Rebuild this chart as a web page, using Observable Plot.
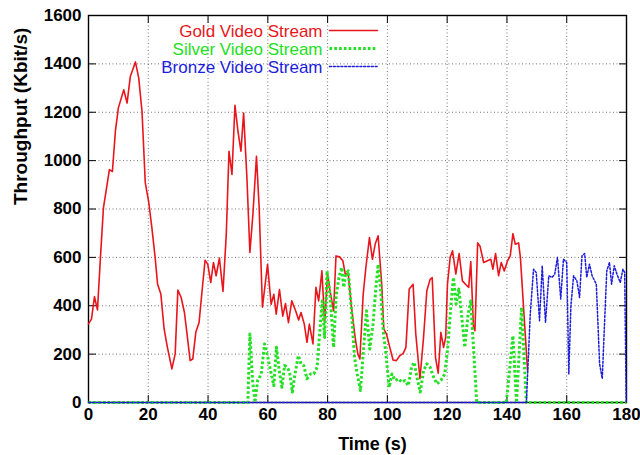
<!DOCTYPE html>
<html><head><meta charset="utf-8">
<script src="https://cdn.jsdelivr.net/npm/d3@7"></script>
<script src="https://cdn.jsdelivr.net/npm/@observablehq/plot@0.6"></script>
<style>body{margin:0;background:#fff} #chart svg{display:block}</style>
</head><body><div id="chart"></div>
<script>
// ---- data ----
const goldT = [0,1,2,3,4,5,7,8,9,10,11.8,12.9,14,15.7,16.8,17.9,19,20.1,21.2,22.3,23.1,24.2,25.3,26.4,27.9,29,29.9,31,32.1,33.1,34,34.9,35.9,37,38,39,39.9,40.9,41.8,42.7,43.8,45,46.1,47,48,49,50,51,51.9,53,54,55,56.2,57.1,58.2,59.9,61.1,62,62.8,63.9,65,65.9,66.9,68,69.3,70.3,71.1,72.2,73.1,73.9,75.1,76.1,77,78.1,79,80,80.8,82,82.8,84,85.1,85.9,86.9,88,89.2,90.1,90.8,91.9,92.8,94,95,95.9,96.9,98.1,98.8,99.7,100.8,101.9,103,104.2,105.3,106.2,107.3,108.6,109.5,110.9,112.1,113.2,114.3,115,116.1,117,117.9,118.8,119.5,120.1,121,121.8,122.9,124,125.1,126.3,127.2,127.9,128.8,129.3,130.2,131,132.2,133.5,134.6,135.3,136.2,137.2,138.1,139.1,140.2,141.1,142,142.8,143.9,144.5,146.9];
const goldV = [325,345,438,383,600,805,963,955,1122,1218,1293,1238,1348,1408,1342,1204,908,833,723,599,490,449,304,228,139,201,465,434,372,269,173,180,290,331,462,588,572,496,579,524,597,459,696,1039,943,1229,1122,1039,1197,929,620,777,1018,805,394,571,406,447,365,467,357,409,330,420,379,341,372,324,249,324,242,476,420,544,330,531,462,379,606,602,586,531,531,393,269,201,180,447,558,682,592,654,689,489,304,283,228,176,173,194,203,228,469,489,283,98,270,462,509,516,187,121,290,228,269,489,600,627,531,616,503,487,476,583,311,297,660,646,579,586,592,551,616,524,579,544,586,606,698,654,660,600,130];

const silverT = [0,53.3,54,54.9,55.7,56.6,57.8,58.9,60,60.9,62,62.9,63.8,64.7,65.6,66.5,67.3,68.2,69.1,70.2,71.1,72,73.1,74.3,75.4,76.5,77.4,78.2,79,79.8,80.9,82,82.9,83.8,84.7,85.4,86,86.9,87.9,89,89.9,91,91.9,93,94.1,95.2,96.1,96.9,97.7,98.6,99.5,100.6,101.5,102.6,103.7,104.8,105.9,107,108.1,109,109.9,111,112.1,113.2,114.3,115.4,116.6,117.9,119.2,120.2,121.2,122.1,123,123.9,124.8,125.9,127,127.9,128.8,129.9,139.8,142,143.2,144.9,146.5,180];
const silverV = [0,0,283,91,0,91,118,242,187,132,70,228,132,63,153,146,125,43,118,194,160,153,98,118,118,146,297,420,269,544,434,228,447,517,558,476,531,544,393,187,118,50,201,379,221,324,467,571,476,297,201,63,118,91,98,84,91,70,146,166,104,43,132,160,146,107,77,91,118,228,393,517,407,469,365,228,365,420,228,0,0,276,0,393,0,0];

const bronzeT = [0,146.5,147.8,148.9,149.8,150.9,151.8,152.9,154,155.1,156,156.9,158,158.9,160,160.7,161.4,162.3,163.4,164.3,165.1,166,166.7,167.6,168.5,169.9,171,171.9,172.5,173.4,174.3,175,175.9,176.8,177.9,178.8,179.4,179.9,180];
const bronzeV = [0,0,365,551,537,338,565,331,524,517,531,600,428,593,579,118,400,524,503,434,606,616,517,572,524,489,160,98,283,544,579,489,565,531,496,551,537,0,0];

const xTicks = [0,20,40,60,80,100,120,140,160,180];
const yTicks = [0,200,400,600,800,1000,1200,1400,1600];
const seriesNames = ["Gold Video Stream","Silver Video Stream","Bronze Video Stream"];
const seriesColors = ["#e8161c","#22e022","#1c1cdc"];
const xTitle = "Time (s)";
const yTitle = "Throughput (Kbit/s)";

// ---- build ----
const rows = (T, V) => T.map((t, i) => ({t, v: V[i]}));
const gold = rows(goldT, goldV), silver = rows(silverT, silverV), bronze = rows(bronzeT, bronzeV);
const seg = {draw(ctx, l) { ctx.moveTo(0, 0); ctx.lineTo(0, -l); }};
const styles = [
  {strokeWidth: 1.6},
  {strokeWidth: 3, strokeDasharray: "2.6,2.2", strokeLinecap: "butt"},
  {strokeWidth: 1.5, strokeDasharray: "2,1.8"}
];
const tickOpt = {stroke: "#000", strokeWidth: 1, length: 7, anchor: "start", shape: seg};

const legendMarks = seriesNames.flatMap((name, i) => [
  Plot.text([name], {text: d => d, frameAnchor: "top-left", dx: 234, dy: 16 + i * 18,
    textAnchor: "end", lineAnchor: "middle", fill: seriesColors[i], fontSize: 17, fontWeight: "normal"}),
  Plot.vector([name], {frameAnchor: "top-left", dx: 241, dy: 15 + i * 18, rotate: 90,
    length: 48, anchor: "start", shape: seg, stroke: seriesColors[i], ...styles[i]})
]);

const chart = Plot.plot({
  width: 640, height: 455,
  marginLeft: 88, marginRight: 14, marginTop: 15, marginBottom: 53,
  style: {fontFamily: "'Liberation Sans', Arial, Helvetica, sans-serif", fontSize: "17px", fontWeight: "bold", background: "#fff", color: "#000"},
  x: {domain: [0, 180], axis: null},
  y: {domain: [0, 1600], axis: null},
  marks: [
    Plot.gridX(xTicks.slice(1, -1), {stroke: "#000", strokeOpacity: 0.55, strokeDasharray: "1,2.5"}),
    Plot.gridY(yTicks.slice(1, -1), {stroke: "#000", strokeOpacity: 0.55, strokeDasharray: "1,2.5"}),
    Plot.frame({stroke: "#000", strokeWidth: 1.4}),
    Plot.vector(xTicks, {x: d => d, frameAnchor: "bottom", rotate: 0, ...tickOpt}),
    Plot.vector(xTicks, {x: d => d, frameAnchor: "top", rotate: 180, ...tickOpt}),
    Plot.vector(yTicks, {y: d => d, frameAnchor: "left", rotate: 90, ...tickOpt}),
    Plot.vector(yTicks, {y: d => d, frameAnchor: "right", rotate: -90, ...tickOpt}),
    Plot.axisX(xTicks, {anchor: "bottom", tickSize: 0, tickPadding: 5, label: null, tickFormat: d => String(d), fontSize: 17, fontWeight: "bold"}),
    Plot.axisY(yTicks, {anchor: "left", tickSize: 0, tickPadding: 7, label: null, tickFormat: d => String(d), fontSize: 17, fontWeight: "bold"}),
    Plot.line(gold, {x: "t", y: "v", stroke: seriesColors[0], ...styles[0]}),
    Plot.line(silver, {x: "t", y: "v", stroke: seriesColors[1], ...styles[1]}),
    Plot.line(bronze, {x: "t", y: "v", stroke: seriesColors[2], ...styles[2]}),
    ...legendMarks,
    Plot.text([xTitle], {text: d => d, frameAnchor: "bottom", dx: 15, dy: 42, lineAnchor: "middle", fontSize: 18, fontWeight: "bold"}),
    Plot.text([yTitle], {text: d => d, frameAnchor: "left", dx: -68, dy: -4, rotate: -90, lineAnchor: "middle", fontSize: 19, fontWeight: "bold"})
  ]
});
document.getElementById("chart").appendChild(chart);
</script>
</body></html>
